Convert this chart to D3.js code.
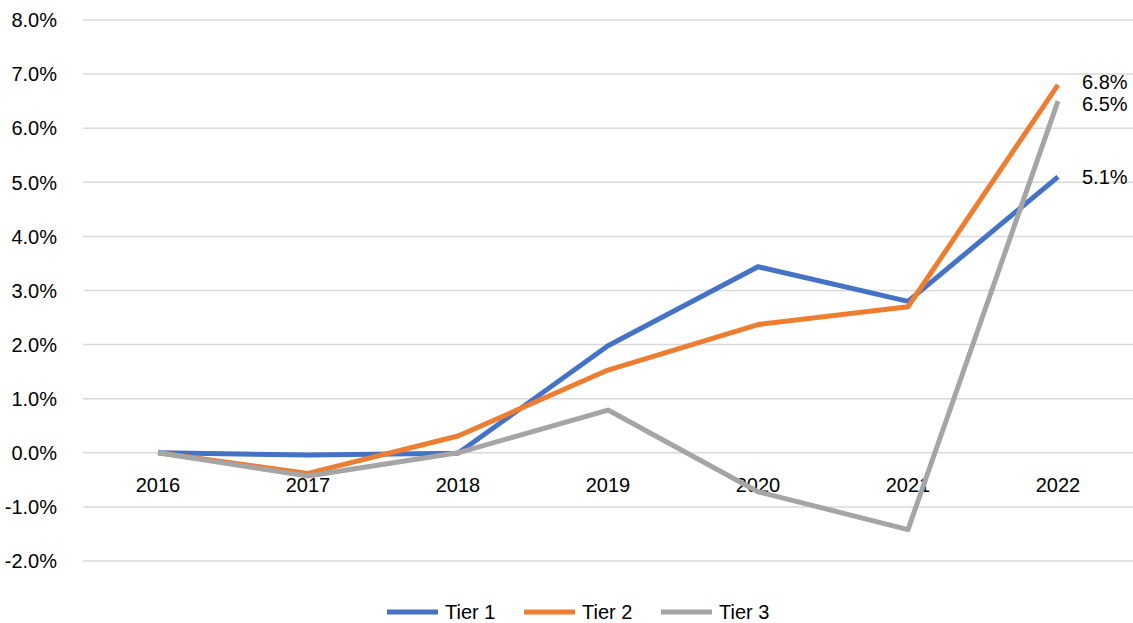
<!DOCTYPE html>
<html>
<head>
<meta charset="utf-8">
<script src="https://cdn.jsdelivr.net/npm/d3@7"></script>
<style>
  body { margin: 0; background: #fff; }
  text { font-family: "Liberation Sans", Arial, sans-serif; fill: #000; }
</style>
</head>
<body>
<div id="chart"></div>
<script>
var years = ["2016", "2017", "2018", "2019", "2020", "2021", "2022"];
var tier1 = [0, -0.04, -0.01, 1.98, 3.44, 2.8, 5.1];
var tier2 = [0, -0.38, 0.31, 1.53, 2.37, 2.7, 6.8];
var tier3 = [0, -0.43, 0, 0.79, -0.72, -1.42, 6.5];
var seriesNames = ["Tier 1", "Tier 2", "Tier 3"];
var yTicks = [-2, -1, 0, 1, 2, 3, 4, 5, 6, 7, 8];

var svgWidth = 1133;
var svgHeight = 623;
var colors = ["#4472C4", "#ED7D31", "#A5A5A5"];
var series = [tier1, tier2, tier3];

// plain hyphen for negatives, like the original
var pct = d => d.toFixed(1) + "%";

var svg = d3.select("#chart")
  .append("svg")
  .attr("width", svgWidth)
  .attr("height", svgHeight);

var x = d3.scaleBand()
  .domain(years)
  .range([83, 1133])
  .padding(0);

var y = d3.scaleLinear()
  .domain([-2, 8])
  .range([561, 20]);

var cx = function(yr) { return x(yr) + x.bandwidth() / 2; };

// gridlines
svg.append("g").selectAll("line")
  .data(yTicks)
  .enter()
  .append("line")
  .attr("x1", 83)
  .attr("x2", 1133)
  .attr("y1", d => y(d))
  .attr("y2", d => y(d))
  .attr("stroke", "#d9d9d9")
  .attr("stroke-width", 1.5);

// y tick labels
svg.append("g").selectAll("text")
  .data(yTicks)
  .enter()
  .append("text")
  .attr("x", 57)
  .attr("y", d => y(d))
  .attr("dy", "0.36em")
  .attr("text-anchor", "end")
  .attr("font-size", "20px")
  .text(d => pct(d));

// x labels under the zero line
svg.append("g").selectAll("text")
  .data(years)
  .enter()
  .append("text")
  .attr("x", d => cx(d))
  .attr("y", 492)
  .attr("text-anchor", "middle")
  .attr("font-size", "20px")
  .text(d => d);

var line = d3.line()
  .x((d, i) => cx(years[i]))
  .y(d => y(d));

svg.append("g").selectAll("path")
  .data(series)
  .enter()
  .append("path")
  .attr("d", d => line(d))
  .attr("fill", "none")
  .attr("stroke", (d, i) => colors[i])
  .attr("stroke-width", 5)
  .attr("stroke-linejoin", "round");

// end labels, pushed apart if they collide
var last = years.length - 1;
var ends = series.map(s => ({ v: s[last], ly: y(s[last]) }));
ends.sort((a, b) => a.ly - b.ly);
for (var i = 1; i < ends.length; i++) {
  var gap = ends[i].ly - ends[i - 1].ly;
  if (gap < 22) {
    var push = (22 - gap) / 2;
    ends[i - 1].ly -= push;
    ends[i].ly += push;
  }
}
svg.append("g").selectAll("text")
  .data(ends)
  .enter()
  .append("text")
  .attr("x", cx(years[last]) + 24)
  .attr("y", d => d.ly)
  .attr("dy", "0.36em")
  .attr("font-size", "20px")
  .text(d => pct(d.v));

// legend
var legendX = [387, 524, 661];
var legend = svg.append("g").selectAll("g")
  .data(seriesNames)
  .enter()
  .append("g")
  .attr("transform", (d, i) => `translate(${legendX[i]}, 612)`);

legend.append("line")
  .attr("x1", 0)
  .attr("x2", 51)
  .attr("stroke", (d, i) => colors[i])
  .attr("stroke-width", 5);

legend.append("text")
  .attr("x", 58)
  .attr("dy", "0.36em")
  .attr("font-size", "20px")
  .text(d => d);
</script>
</body>
</html>
